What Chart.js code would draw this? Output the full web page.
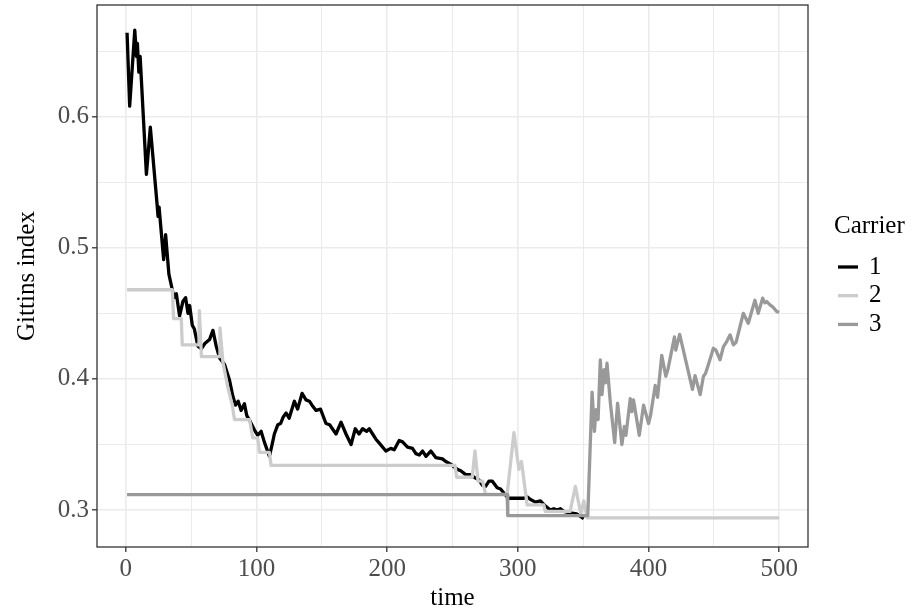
<!DOCTYPE html>
<html>
<head>
<meta charset="utf-8">
<script src="https://cdn.jsdelivr.net/npm/chart.js@4.4.0/dist/chart.umd.min.js"></script>
<style>
  html, body { margin: 0; padding: 0; background: #ffffff; }
  #wrap { width: 919px; height: 613px; position: relative; }
</style>
</head>
<body>
<div id="wrap"><canvas id="gittinsChart"></canvas></div>
<script>
// --- Data ---
const carrierLabels = ['1', '2', '3'];
const carrierColors = ['#000000', '#cccccc', '#999999'];

const c1Time = [1, 3, 6.9, 8.2, 8.9, 10, 11, 15.8, 18.8, 23.9, 24.7, 25.5, 29, 30.5, 33, 35.6, 37, 38.7,
  41.2, 43.7, 45.8, 47.6, 48.9, 50.9, 52.5, 55.2, 57.8, 60.5, 64.1, 66.7, 69.2, 71.8, 75.6, 79.4, 81.9,
  84, 86, 88.3, 90.8, 92.6, 95, 98.5, 101, 103.6, 106, 109.9, 112, 113.7, 116.3, 118.5, 120.5, 122.7,
  125, 129, 131.5, 134.9, 137.9, 140.5, 142.5, 145.6, 149, 153.2, 156, 160.9, 164.7, 168.5, 172.4,
  175.6, 178.5, 181.2, 184.3, 186.3, 191.4, 194, 199, 202.8, 205.4, 209.2, 211.8, 215.6, 219.4, 222,
  224.6, 227.1, 229.7, 233.4, 237.2, 242.3, 244.8, 248.6, 253.7, 256.3, 260.1, 263.9, 266.5, 270.2,
  272.8, 275.3, 277.9, 280.5, 284.2, 286.8, 289.3, 292.6, 304.6, 307.1, 309.7, 313.5, 317.3, 321.1,
  325, 327.5, 330, 332.6, 335.1, 338.9, 345, 350.4];
const c1Index = [0.664, 0.608, 0.666, 0.646, 0.656, 0.634, 0.646, 0.556, 0.592, 0.534, 0.524, 0.531, 0.491, 0.510, 0.480, 0.468, 0.462, 0.465,
  0.448, 0.459, 0.462, 0.450, 0.456, 0.441, 0.438, 0.425, 0.423, 0.427, 0.430, 0.437, 0.425, 0.416, 0.411, 0.399, 0.387,
  0.380, 0.383, 0.376, 0.381, 0.372, 0.368, 0.361, 0.357, 0.360, 0.352, 0.341, 0.350, 0.358, 0.365, 0.366, 0.371, 0.374,
  0.370, 0.383, 0.377, 0.389, 0.384, 0.383, 0.380, 0.376, 0.377, 0.366, 0.365, 0.358, 0.367, 0.358, 0.350,
  0.362, 0.358, 0.362, 0.360, 0.362, 0.354, 0.351, 0.345, 0.347, 0.346, 0.353, 0.352, 0.348, 0.347, 0.343,
  0.342, 0.345, 0.341, 0.345, 0.340, 0.339, 0.337, 0.335, 0.331, 0.330, 0.327, 0.327, 0.325, 0.323,
  0.319, 0.318, 0.322, 0.322, 0.317, 0.316, 0.313, 0.309, 0.309, 0.310, 0.308, 0.306, 0.307, 0.303,
  0.300, 0.301, 0.300, 0.301, 0.299, 0.298, 0.297, 0.2935];

const c2Time = [1, 35.6, 36.6, 42.5, 43.2, 56, 56.3, 57.9, 71.8, 72.1, 74.3, 78, 81.5, 83.2, 94.7, 97.2,
  101, 102.3, 109.9, 111.2, 251.9, 253.2, 265.1, 267.2, 269.5, 273, 275.3, 291.8, 297, 300.8, 302.8,
  307.1, 319.8, 321, 340, 344, 348.2, 350.4, 353, 500];
const c2Index = [0.468, 0.468, 0.446, 0.446, 0.426, 0.426, 0.452, 0.417, 0.417, 0.439, 0.413, 0.394, 0.380, 0.369, 0.369, 0.355,
  0.355, 0.344, 0.344, 0.334, 0.334, 0.325, 0.325, 0.345, 0.322, 0.322, 0.312, 0.312, 0.359, 0.331, 0.337,
  0.304, 0.304, 0.299, 0.299, 0.318, 0.297, 0.307, 0.294, 0.294];

const c3Time = [1, 291.8, 292.3, 353.5, 356.8, 358.6, 359.8, 361.4, 363.1, 364.4, 366, 367, 368.2, 370.8,
  374.1, 376.3, 379.6, 381.5, 382.7, 386, 387.2, 388.5, 392.9, 396.2, 400, 401.5, 405.1, 406.9, 410.1,
  413.2, 415, 419.8, 420.8, 423.8, 433.6, 435.6, 439.5, 442, 443.5, 445.8, 449.6, 451.5, 454.7, 457.3,
  459.8, 462.4, 464.9, 467, 472.5, 476.3, 481.4, 483.9, 487.3, 489, 490.5, 492.9, 495, 498, 500];
const c3Index = [0.3117, 0.3117, 0.2957, 0.2957, 0.390, 0.360, 0.3765, 0.369, 0.4146, 0.388, 0.407, 0.397, 0.412, 0.3815,
  0.3515, 0.3815, 0.350, 0.3637, 0.357, 0.385, 0.375, 0.384, 0.357, 0.380, 0.366, 0.372, 0.395, 0.386, 0.418,
  0.402, 0.408, 0.432, 0.422, 0.434, 0.392, 0.4025, 0.388, 0.402, 0.404, 0.411, 0.4234, 0.422, 0.4146, 0.4247,
  0.4285, 0.4336, 0.426, 0.428, 0.450, 0.4425, 0.460, 0.450, 0.4616, 0.458, 0.459, 0.4565, 0.455, 0.4514, 0.451];

// major ticks (labelled) and minor grid positions
const xTickLabels = ['0', '100', '200', '300', '400', '500'];
const xMinorTicks = [50, 150, 250, 350, 450];
const yTickLabels = ['0.3', '0.4', '0.5', '0.6'];
const yMinorTicks = [0.35, 0.45, 0.55, 0.65];

// --- helpers ---
const toPoints = (ts, vs) => ts.map((t, i) => ({ x: t, y: vs[i] }));
const serif = "'Liberation Serif', 'DejaVu Serif', serif";

const yLabelOf = v => yTickLabels.find(l => Math.abs(parseFloat(l) - v) < 1e-6);
const xLabelOf = v => xTickLabels.find(l => Math.abs(parseFloat(l) - v) < 1e-6);
const tickList = (labels, minors) =>
    labels.map(Number).concat(minors).sort((a, b) => a - b).map(v => ({ value: v }));

// panel border + right-hand legend, drawn like ggplot's theme_bw
const panelAndLegend = {
    id: 'panelAndLegend',
    afterDatasetsDraw(chart) {
        const { ctx, chartArea: a } = chart;
        ctx.save();
        ctx.strokeStyle = '#333333';
        ctx.lineWidth = 1.3;
        ctx.strokeRect(a.left, a.top, a.right - a.left, a.bottom - a.top);
        ctx.restore();
    },
    afterDraw(chart) {
        const ctx = chart.ctx;
        ctx.save();
        ctx.fillStyle = '#000000';
        ctx.textBaseline = 'middle';
        ctx.textAlign = 'left';
        ctx.font = `25px ${serif}`;
        ctx.fillText('Carrier', 834, 226);
        chart.data.datasets.forEach((ds, i) => {
            const y = 267 + i * 28.7;
            ctx.strokeStyle = ds.borderColor;
            ctx.lineWidth = 3.3;
            ctx.beginPath();
            ctx.moveTo(838, y);
            ctx.lineTo(858, y);
            ctx.stroke();
            ctx.fillText(ds.label, 869, y);
        });
        ctx.restore();
    }
};

const makeDataset = (i, ts, vs) => ({
    label: carrierLabels[i],
    data: toPoints(ts, vs),
    borderColor: carrierColors[i],
    borderWidth: 3.3,
    borderJoinStyle: 'round',
    pointRadius: 0,
    tension: 0,
    fill: false,
    order: 3 - i
});

const ctx = document.getElementById('gittinsChart').getContext('2d');
new Chart(ctx, {
    type: 'line',
    data: {
        datasets: [
            makeDataset(0, c1Time, c1Index),
            makeDataset(1, c2Time, c2Index),
            makeDataset(2, c3Time, c3Index)
        ]
    },
    options: {
        responsive: true,
        maintainAspectRatio: false,
        animation: false,
        layout: { padding: { left: 0, right: 111, top: 5, bottom: 0 } },
        plugins: { legend: { display: false }, tooltip: { enabled: false } },
        scales: {
            x: {
                type: 'linear',
                min: -22,
                max: 522,
                afterBuildTicks: s => { s.ticks = tickList(xTickLabels, xMinorTicks); },
                afterFit: s => { s.height = 66; s.paddingLeft = 0; s.paddingRight = 0; },
                border: { display: false },
                grid: {
                    color: '#ebebeb',
                    lineWidth: c => (xLabelOf(c.tick.value) ? 1.6 : 1.0),
                    tickColor: c => (xLabelOf(c.tick.value) ? '#333333' : 'rgba(0,0,0,0)'),
                    tickWidth: 1.3,
                    tickLength: 5
                },
                ticks: {
                    autoSkip: false,
                    maxRotation: 0,
                    padding: 2,
                    color: '#4d4d4d',
                    font: { family: serif, size: 25 },
                    callback: v => xLabelOf(v) || ''
                },
                title: {
                    display: true,
                    text: 'time',
                    color: '#000000',
                    font: { family: serif, size: 25 },
                    padding: { top: 0, bottom: 0 }
                }
            },
            y: {
                type: 'linear',
                min: 0.2718,
                max: 0.6852,
                afterBuildTicks: s => { s.ticks = tickList(yTickLabels, yMinorTicks); },
                afterFit: s => { s.width = 97; s.paddingTop = 0; s.paddingBottom = 0; },
                border: { display: false },
                grid: {
                    color: '#ebebeb',
                    lineWidth: c => (yLabelOf(c.tick.value) ? 1.6 : 1.0),
                    tickColor: c => (yLabelOf(c.tick.value) ? '#333333' : 'rgba(0,0,0,0)'),
                    tickWidth: 1.3,
                    tickLength: 5
                },
                ticks: {
                    autoSkip: false,
                    padding: 3,
                    color: '#4d4d4d',
                    font: { family: serif, size: 25 },
                    callback: v => yLabelOf(v) || ''
                },
                title: {
                    display: true,
                    text: 'Gittins index',
                    color: '#000000',
                    font: { family: serif, size: 25 },
                    padding: { top: 12, bottom: 0 }
                }
            }
        }
    },
    plugins: [panelAndLegend]
});
</script>
</body>
</html>
